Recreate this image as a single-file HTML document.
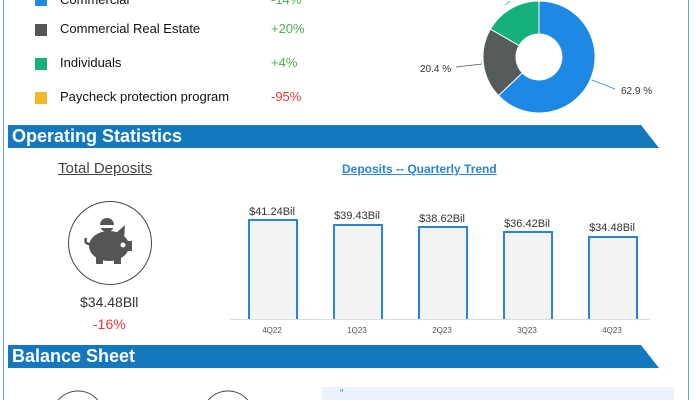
<!DOCTYPE html>
<html style="overflow:hidden;height:400px"><head><meta charset="utf-8"><style>
body{margin:0;width:700px;height:400px;overflow:hidden;background:#fff;font-family:"Liberation Sans",sans-serif;position:relative}
.a{position:absolute}
.sq{position:absolute;width:12px;height:12px}
.lt{position:absolute;left:60px;font-size:13px;color:#111}
.v{position:absolute;left:271px;font-size:13px}
.band{position:absolute;left:8px;height:23px;background:#1478be;color:#fff;font-weight:bold;font-size:18px;line-height:23px;padding-left:4px;width:651px;clip-path:polygon(0 0,633px 0,651px 100%,0 100%);box-sizing:border-box}
.bar{position:absolute;width:46px;background:#f3f3f3;border:2px solid #2a84d8;border-bottom:none;bottom:81px}
.bl{position:absolute;font-size:11px;color:#333;width:80px;text-align:center}
.xl{position:absolute;top:326px;font-size:8px;color:#555;width:60px;text-align:center}
</style></head><body>
<div class="a" style="left:3px;top:0;width:1px;height:400px;background:#5aa3dc"></div>
<div class="a" style="left:688px;top:0;width:1px;height:400px;background:#5aa3dc"></div>

<div class="sq" style="left:35px;top:0;height:6px;background:#1e88e5"></div>
<div class="a" style="left:0;top:0;width:700px;height:10px;overflow:hidden">
<div class="lt" style="top:-8px">Commercial</div><div class="v" style="top:-8px;color:#4caf50">-14%</div>
</div>
<div class="sq" style="left:35px;top:24px;background:#555"></div>
<div class="lt" style="top:21px">Commercial Real Estate</div><div class="v" style="top:21px;color:#4caf50">+20%</div>
<div class="sq" style="left:35px;top:58px;background:#16b07a"></div>
<div class="lt" style="top:55px">Individuals</div><div class="v" style="top:55px;color:#4caf50">+4%</div>
<div class="sq" style="left:35px;top:92px;background:#f4b82c"></div>
<div class="lt" style="top:89px">Paycheck protection program</div><div class="v" style="top:89px;color:#e53935">-95%</div>

<svg class="a" style="left:0;top:0" width="700" height="120">
<path d="M539,1 A56 56 0 1 1 498.5,95.6 L522.3,72.9 A23 23 0 1 0 539,34 Z" fill="#1e88e5" stroke="#fff"/>
<path d="M498.5,95.6 A56 56 0 0 1 490.4,29.1 L519.1,45.5 A23 23 0 0 0 522.3,72.9 Z" fill="#555a5a" stroke="#fff"/>
<path d="M490.4,29.1 A56 56 0 0 1 539,1 L539,34 A23 23 0 0 0 519.1,45.5 Z" fill="#16b07a" stroke="#fff"/>
<line x1="456" y1="67" x2="482" y2="64" stroke="#555" stroke-width="0.8"/>
<line x1="592" y1="80" x2="615" y2="89" stroke="#1e88e5" stroke-width="0.8"/>
<line x1="505" y1="5" x2="510" y2="1" stroke="#16b07a" stroke-width="0.8"/>
<text x="450" y="0" font-size="10" fill="#333">16.7 %</text>
<text x="420" y="72" font-size="10" fill="#333">20.4 %</text>
<text x="621" y="94" font-size="10" fill="#333">62.9 %</text>
</svg>

<div class="band" style="top:125px">Operating Statistics</div>
<div class="a" style="left:58px;top:160px;font-size:15px;color:#444;text-decoration:underline">Total Deposits</div>
<div class="a" style="left:68px;top:201px;width:82px;height:82px;border:1px solid #444;border-radius:50%"></div>
<svg class="a" style="left:80px;top:212px" width="60" height="60">
<circle cx="27" cy="13" r="7" fill="#555"/>
<rect x="19" y="13" width="16" height="3" fill="#fff"/>
<ellipse cx="29" cy="34" rx="20" ry="15" fill="#555"/>
<path d="M35 22 L45 13 L44 28 Z" fill="#555"/>
<rect x="46" y="29" width="6" height="10" fill="#555"/>
<rect x="16" y="43" width="7" height="9" fill="#555"/><rect x="34" y="43" width="7" height="9" fill="#555"/>
<circle cx="43" cy="33" r="2.5" fill="#fff"/>
<path d="M10 32 q-6 0 -4 -6" stroke="#555" stroke-width="2.5" fill="none"/>
</svg>
<div class="a" style="left:80px;top:294px;font-size:14px;color:#333">$34.48Bll</div>
<div class="a" style="left:93px;top:316px;font-size:14px;color:#e53935">-16%</div>

<div class="a" style="left:342px;top:162px;font-size:12px;color:#2a84d8;font-weight:bold;text-decoration:underline">Deposits -- Quarterly Trend</div>
<div class="a" style="left:230px;top:319px;width:420px;height:1px;background:#ddd"></div>
<div class="bar" style="left:248px;top:219px"></div><div class="bl" style="left:232px;top:206px">$41.24Bil</div>
<div class="bar" style="left:333px;top:224px"></div><div class="bl" style="left:317px;top:210px">$39.43Bil</div>
<div class="bar" style="left:418px;top:226px"></div><div class="bl" style="left:402px;top:213px">$38.62Bil</div>
<div class="bar" style="left:503px;top:231px"></div><div class="bl" style="left:487px;top:218px">$36.42Bil</div>
<div class="bar" style="left:588px;top:236px"></div><div class="bl" style="left:572px;top:222px">$34.48Bil</div>
<div class="xl" style="left:242px">4Q22</div><div class="xl" style="left:327px">1Q23</div><div class="xl" style="left:412px">2Q23</div><div class="xl" style="left:497px">3Q23</div><div class="xl" style="left:582px">4Q23</div>

<div class="band" style="top:345px">Balance Sheet</div>
<svg class="a" style="left:0;top:385px" width="700" height="15">
<path d="M58.3,15 A26 26 0 0 1 97.7,15" fill="none" stroke="#444"/>
<path d="M208.3,15 A26 26 0 0 1 247.7,15" fill="none" stroke="#444"/>
</svg>
<div class="a" style="left:322px;top:387px;width:352px;height:13px;background:#eaf3fb"></div>
<div class="a" style="left:340px;top:389px;font-size:10px;line-height:10px;height:10px;color:#2a84d8">“</div>
</body></html>
